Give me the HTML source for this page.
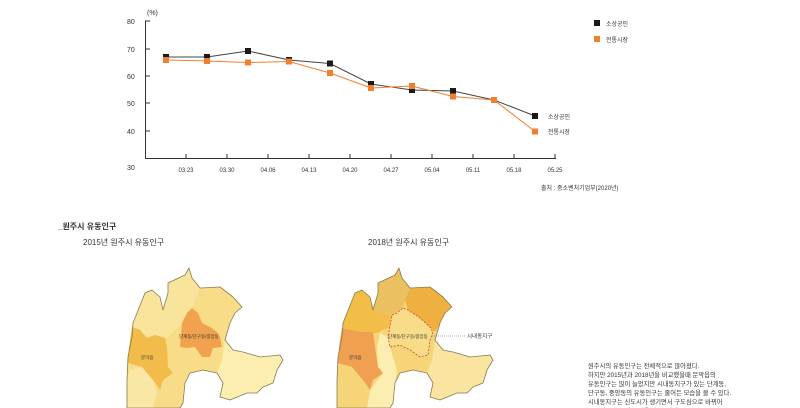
<!DOCTYPE html>
<html><head><meta charset="utf-8"><style>
body{margin:0;width:800px;height:408px;background:#fff;overflow:hidden;font-family:"Liberation Sans","Noto Sans CJK KR",sans-serif}
svg{position:absolute;left:0;top:0}
</style></head><body>
<svg width="800" height="408" font-family="Liberation Sans, Noto Sans CJK KR, sans-serif">
<defs>
<path id="outline" d="M133 323L145 293L152 290L160 297L163 310L168 293L168 283L185 275L189 268L192 278L200 288L220 287L233 297L242 307L235 313L230 323L225 340L233 350L243 352L260 357L280 355L283 360L277 370L273 383L263 387L257 393L247 393L230 400L220 397L223 383L217 373L203 370L190 373L185 383L183 403L180 408L127 408L127 380L128 357L132 337Z"/>
</defs>
<g fill="#333" font-size="7">
<text x="147" y="15">(%)</text>
<text x="127" y="24">80</text><text x="127" y="52">70</text><text x="127" y="79">60</text>
<text x="127" y="106">50</text><text x="127" y="134">40</text><text x="127" y="170">30</text>
</g>
<g stroke="#333" stroke-width="1" fill="none">
<path d="M145.5 21V158.5H556"/>
<path d="M145 21h5M145 49h5M145 76h5M145 103h5M145 131h5"/>
<path d="M186 158v-4M227 158v-4M268 158v-4M309 158v-4M350 158v-4M391 158v-4M432 158v-4M473 158v-4M514 158v-4M555 158v-4"/>
</g>
<g fill="#333" font-size="6" text-anchor="middle">
<text x="186" y="172">03.23</text><text x="227" y="172">03.30</text><text x="268" y="172">04.06</text><text x="309" y="172">04.13</text><text x="350" y="172">04.20</text><text x="391" y="172">04.27</text><text x="432" y="172">05.04</text><text x="473" y="172">05.11</text><text x="514" y="172">05.18</text><text x="555" y="172">05.25</text>
</g>
<text x="541" y="190" font-size="6" fill="#333">출처 : 중소벤처기업부(2020년)</text>
<polyline fill="none" stroke="#444" stroke-width="1" points="166,57 207,57 248,51 289,60 330,63.5 371,84 412,90 453,91 494,100 535,116"/>
<polyline fill="none" stroke="#f08030" stroke-width="1" points="166,60 207,61 248,62.5 289,61.5 330,73 371,88 412,86 453,96.5 494,100 535,131.5"/>
<g fill="#1a1a1a">
<rect x="163" y="54" width="6" height="6"/><rect x="204" y="54" width="6" height="6"/><rect x="245" y="48" width="6" height="6"/><rect x="286" y="57" width="6" height="6"/><rect x="327" y="60.5" width="6" height="6"/><rect x="368" y="81" width="6" height="6"/><rect x="409" y="87" width="6" height="6"/><rect x="450" y="88" width="6" height="6"/><rect x="491" y="97" width="6" height="6"/><rect x="532" y="113" width="6" height="6"/>
<rect x="594" y="20" width="6" height="6"/>
</g>
<g fill="#f08030">
<rect x="163" y="57" width="6" height="6"/><rect x="204" y="58" width="6" height="6"/><rect x="245" y="59.5" width="6" height="6"/><rect x="286" y="58.5" width="6" height="6"/><rect x="327" y="70" width="6" height="6"/><rect x="368" y="85" width="6" height="6"/><rect x="409" y="83" width="6" height="6"/><rect x="450" y="93.5" width="6" height="6"/><rect x="491" y="97" width="6" height="6"/><rect x="532" y="128.5" width="6" height="6"/>
<rect x="594" y="36" width="6" height="6"/>
</g>
<g fill="#333" font-size="6">
<text x="606" y="26">소상공인</text><text x="606" y="42">전통시장</text>
<text x="548" y="119">소상공인</text><text x="548" y="134">전통시장</text>
</g>
<text x="58" y="229" font-size="8" font-weight="bold" fill="#333">_원주시 유동인구</text>
<text x="83" y="245" font-size="8" fill="#333">2015년 원주시 유동인구</text>
<text x="368" y="245" font-size="8" fill="#333">2018년 원주시 유동인구</text>
<!-- map 2015 -->
<g stroke-linejoin="round">
<use href="#outline" fill="#f8dc88"/>
<path fill="#f9e49c" d="M133 323L145 293L152 290L160 297L163 310L168 293L168 283L185 275L189 268L192 278L200 288L192 308L182 323L167 338L155 335L147 338L140 330L132 327Z"/>
<path fill="#fbeeb0" d="M225 340L233 350L243 352L260 357L280 355L283 360L277 370L273 383L263 387L257 393L247 393L230 400L220 397L223 383L217 373L222 360Z"/>
<path fill="#f9e7a6" d="M130 370L142 367L153 380L157 393L153 408L127 408L127 380Z"/>
<path fill="#f2bc4a" d="M132 327L140 330L147 338L155 335L165 338L167 347L168 367L173 373L163 380L160 390L153 380L142 367L128 363L128 357L130 340Z"/>
<path fill="#f0a24e" d="M182 323L187 313L192 308L198 313L202 323L210 327L217 332L220 337L222 347L213 348L210 357L202 357L195 347L187 348L180 347Z"/>
<use href="#outline" fill="none" stroke="#8a7a50" stroke-width="0.8"/>
</g>
<text x="179" y="338" font-size="4.5" fill="#333">단계동/단구동/중앙동</text>
<text x="141" y="359" font-size="4.5" fill="#333">문막읍</text>
<!-- map 2018 -->
<g stroke-linejoin="round">
<use href="#outline" x="210" fill="#f6d478"/>
<path fill="#f9e4a0" d="M435 340L443 350L453 352L470 357L490 355L493 360L487 370L483 383L473 387L467 393L457 393L440 400L430 397L433 383L427 373L432 360Z"/>
<path fill="#eeb040" d="M410 288L430 287L443 297L452 307L445 313L440 323L435 332L430 327L420 318L408 310L405 300Z"/>
<path fill="#ebc060" d="M378 293L378 283L395 275L399 268L402 278L410 288L405 300L403 308L392 315L380 313L373 310Z"/>
<path fill="#f2be48" d="M343 323L355 293L362 290L370 297L373 310L380 313L392 315L390 327L383 330L377 333L360 332L343 328Z"/>
<path fill="#fbeeb0" d="M377 347L380 333L388 337L390 347L397 370L395 383L393 403L390 408L367 408L370 390L383 373L378 367Z"/>
<path fill="#f0a050" d="M342 328L360 332L373 332L375 347L378 367L383 373L373 380L370 390L363 380L352 367L338 363L338 357L340 340Z"/>
<path fill="#f8dc88" stroke="#e04030" stroke-width="0.8" stroke-dasharray="2,1.5" d="M392 315L397 313L403 308L408 310L420 318L430 327L433 332L430 340L428 355L420 357L410 350L400 345L390 347L388 337Z"/>
<use href="#outline" x="210" fill="none" stroke="#8a7a50" stroke-width="0.8"/>
</g>
<line x1="432" y1="336" x2="465" y2="336" stroke="#666" stroke-width="0.6" stroke-dasharray="1,1"/>
<text x="467" y="338" font-size="5.5" fill="#333">시내동지구</text>
<text x="388" y="338" font-size="4.5" fill="#333">단계동/단구동/중앙동</text>
<text x="349" y="359" font-size="4.5" fill="#333">문막읍</text>
<g font-size="6.3" fill="#333">
<text x="588" y="368">원주시의 유동인구는 전체적으로 많아졌다.</text>
<text x="588" y="377">하지만 2015년과 2018년을 비교했을때 문막읍의</text>
<text x="588" y="386">유동인구는 많이 늘었지만 시내동지구가 있는 단계동,</text>
<text x="588" y="395">단구동, 중앙동의 유동인구는 줄어든 모습을 볼 수 있다.</text>
<text x="588" y="404">시내동지구는 신도시가 생기면서 구도심으로 바뀌어</text>
<text x="588" y="413">유동인구가 줄어든 것을 알 수 있다.</text>
</g>
</svg>
</body></html>
